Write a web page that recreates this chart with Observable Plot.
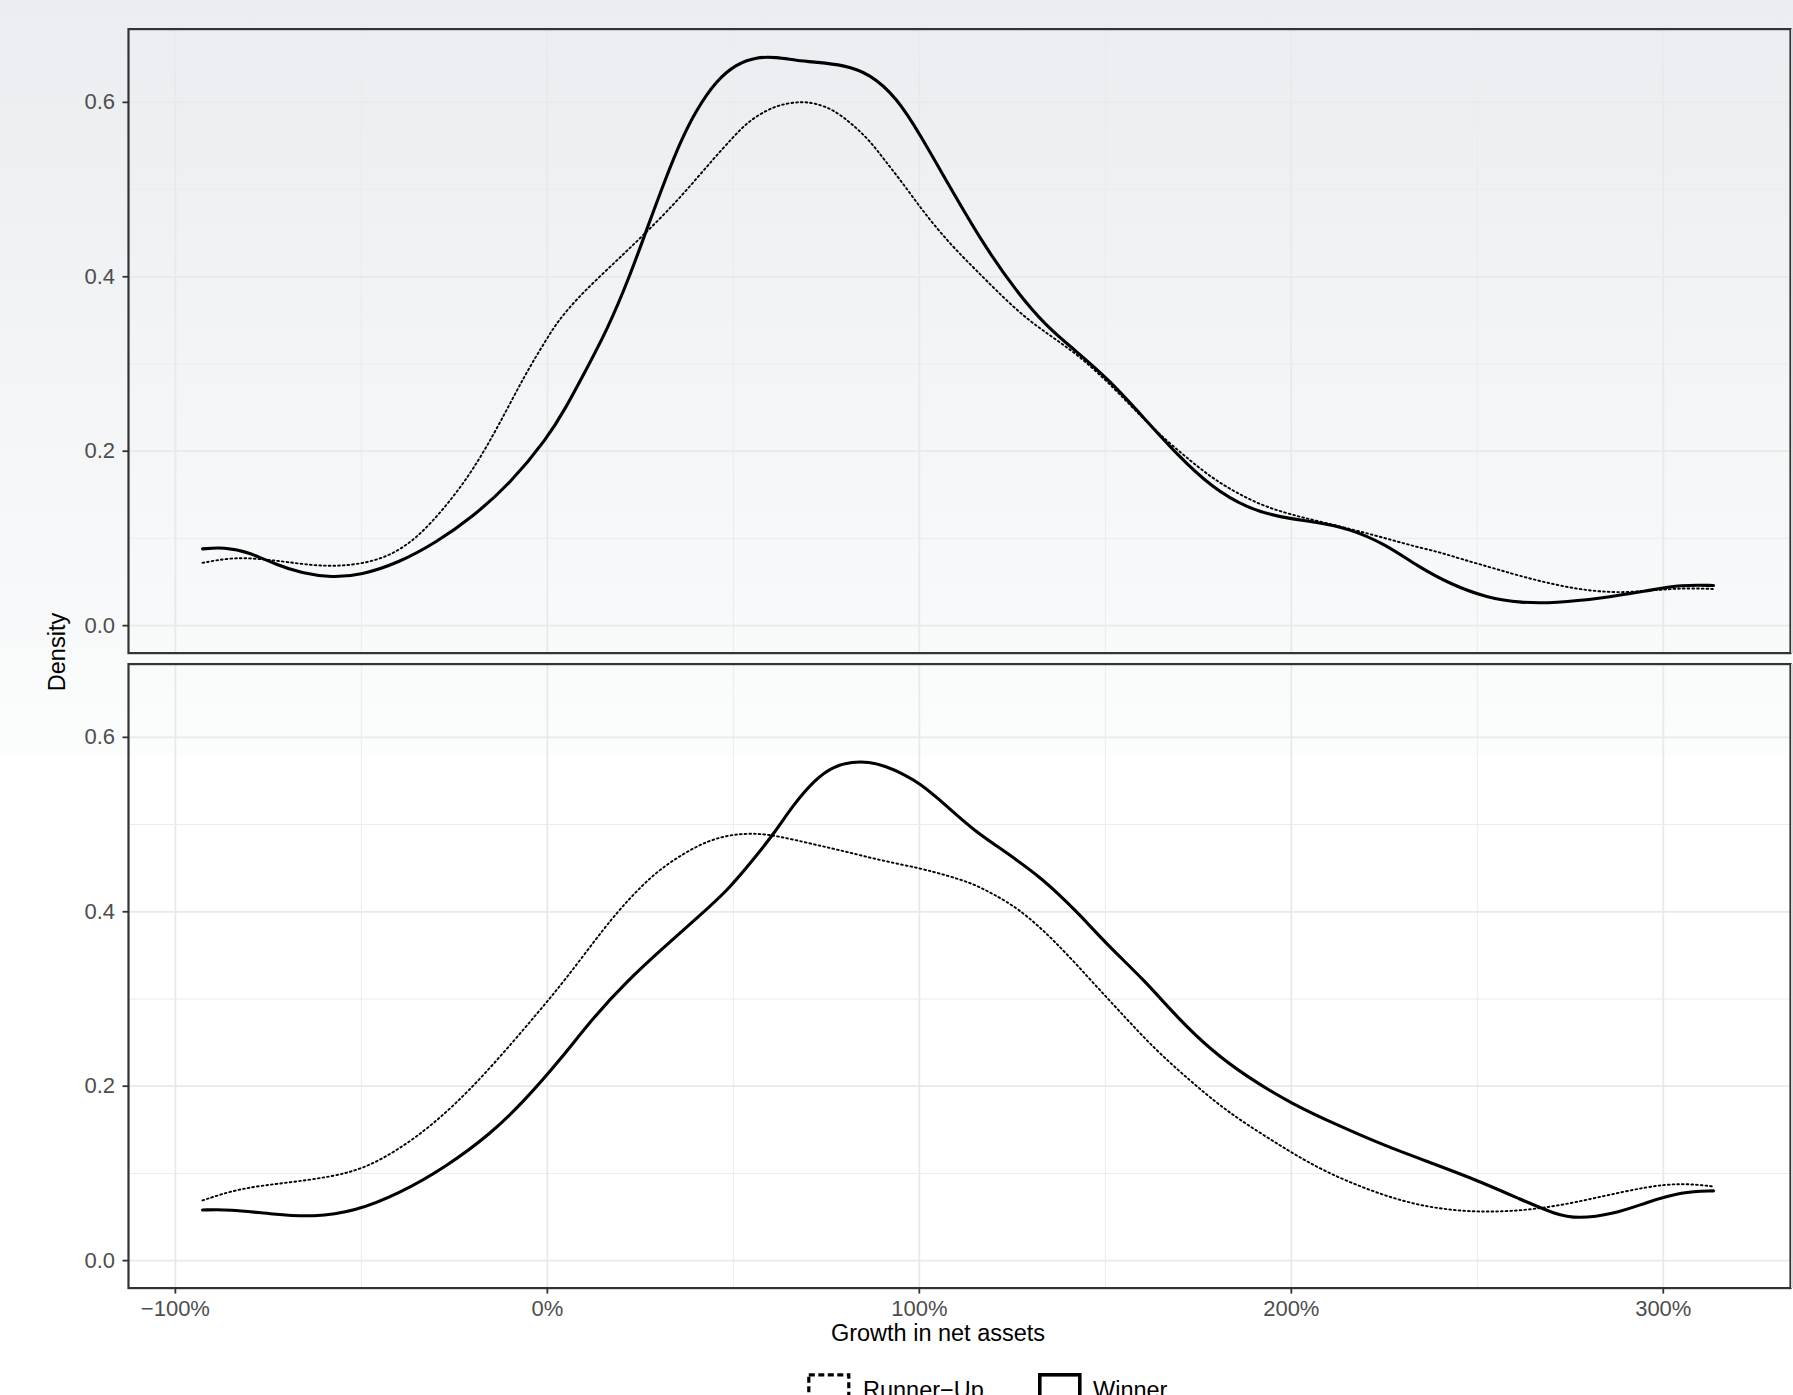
<!DOCTYPE html>
<html>
<head>
<meta charset="utf-8">
<script src="https://cdn.jsdelivr.net/npm/d3@7"></script>
<script src="https://cdn.jsdelivr.net/npm/@observablehq/plot@0.6"></script>
<style>
  html, body { margin: 0; padding: 0; }
  body {
    width: 1793px; height: 1395px; overflow: hidden;
    background: linear-gradient(to bottom, #eaedf1 0px, #fbfcfc 750px, #ffffff 760px, #ffffff 1395px);
    font-family: "Liberation Sans", Arial, Helvetica, sans-serif;
  }
  #wrap { position: relative; width: 1793px; height: 1395px; }
  #chart { position: absolute; left: 0; top: 0; }
  .title { position: absolute; font-size: 23.5px; line-height: 23.5px; color: #000; white-space: nowrap; }
  .strip { position: absolute; background: #d9d9d9; }
</style>
</head>
<body>
<div id="wrap">
  <div id="chart"></div>
</div>
<script>
// ---- data (x in percent growth, y = density) ----
const panels = ["Panel 1", "Panel 2"];
const seriesNames = ["Runner\u2212Up", "Winner"];
const xTicks = [-100, 0, 100, 200, 300];
const xMinor = [-50, 50, 150, 250];
const yTicks = [0, 0.2, 0.4, 0.6];
const yMinor = [0.1, 0.3, 0.5];

const topWinnerX = [-92.7, -87, -80, -73, -66, -58, -50, -40, -30, -20, -10, 0, 5, 10, 16.2, 22.1, 26.6, 31.9, 36, 40, 45.4, 50.8, 56.2, 61.5, 67, 72.3, 79.5, 86.7, 93.8, 100.1, 108.2, 117.1, 126.1, 134.2, 141.8, 151, 160, 169.5, 178.8, 188, 197, 206.5, 215.7, 225, 234, 243, 252.6, 261.8, 271, 283, 295.7, 305, 313.5];
const topWinnerY = [0.088, 0.090, 0.084, 0.070, 0.060, 0.055, 0.058, 0.072, 0.095, 0.125, 0.163, 0.215, 0.250, 0.290, 0.340, 0.400, 0.453, 0.514, 0.557, 0.591, 0.625, 0.644, 0.652, 0.652, 0.648, 0.646, 0.643, 0.633, 0.606, 0.564, 0.503, 0.438, 0.383, 0.343, 0.316, 0.282, 0.240, 0.195, 0.158, 0.135, 0.124, 0.119, 0.111, 0.094, 0.068, 0.047, 0.032, 0.026, 0.026, 0.031, 0.040, 0.047, 0.046];

const topRunnerX = [-92.7, -85, -78, -70, -61, -52, -43, -35, -27, -20, -13, -6, 0, 3, 8, 14, 20, 25.6, 32, 38.2, 44, 49.9, 54, 58.9, 63, 68.3, 72, 76.8, 82, 86.7, 91, 95.6, 100, 104.6, 110, 115.4, 121, 127.9, 135, 141.8, 148, 154, 160, 166.5, 172.6, 178.8, 185, 191, 197, 203, 209, 215.7, 222, 228, 234, 240, 246, 252.6, 259, 265, 271, 277, 283, 289.5, 295.7, 301.8, 307, 313.5];
const topRunnerY = [0.072, 0.078, 0.077, 0.073, 0.068, 0.069, 0.078, 0.100, 0.138, 0.178, 0.230, 0.288, 0.330, 0.350, 0.375, 0.400, 0.424, 0.447, 0.474, 0.503, 0.532, 0.560, 0.578, 0.591, 0.598, 0.601, 0.599, 0.592, 0.575, 0.556, 0.532, 0.507, 0.481, 0.456, 0.430, 0.407, 0.383, 0.355, 0.333, 0.313, 0.290, 0.265, 0.238, 0.212, 0.190, 0.169, 0.153, 0.140, 0.131, 0.124, 0.118, 0.111, 0.104, 0.097, 0.090, 0.084, 0.076, 0.068, 0.060, 0.053, 0.047, 0.042, 0.039, 0.038, 0.040, 0.042, 0.043, 0.042];

const botWinnerX = [-92.7, -85.8, -73.5, -62.8, -52, -39.7, -27.4, -15, -5.8, 3.4, 12.6, 21.8, 31, 40, 48.6, 55, 61, 66, 72, 77, 82, 86.4, 91, 95.7, 100.2, 105, 110, 114.6, 120.6, 126, 132.6, 137, 142.4, 151, 160.4, 169.5, 178.8, 188, 200, 212.6, 225, 237, 249.5, 261.8, 271, 277, 286.5, 295.7, 305, 313.5];
const botWinnerY = [0.058, 0.059, 0.053, 0.050, 0.056, 0.077, 0.107, 0.146, 0.185, 0.230, 0.280, 0.322, 0.358, 0.392, 0.425, 0.458, 0.490, 0.522, 0.552, 0.567, 0.572, 0.572, 0.567, 0.558, 0.547, 0.530, 0.511, 0.494, 0.476, 0.460, 0.439, 0.422, 0.400, 0.360, 0.322, 0.278, 0.240, 0.211, 0.180, 0.155, 0.132, 0.113, 0.093, 0.070, 0.053, 0.048, 0.053, 0.067, 0.079, 0.080];

const botRunnerX = [-92.7, -82.8, -70.5, -58, -49, -39.7, -30.5, -21.2, -12, -2.8, 5.4, 15.7, 22, 29, 36.6, 43.4, 50, 56.4, 61.8, 71, 80.3, 89.5, 100.2, 108, 114.6, 120, 126.6, 135.7, 146, 154, 163.4, 172.6, 181.8, 191, 200, 209, 221.8, 234, 246.5, 258.8, 271, 283, 295.7, 305, 313.5];
const botRunnerY = [0.069, 0.083, 0.089, 0.096, 0.106, 0.128, 0.157, 0.194, 0.237, 0.283, 0.325, 0.384, 0.415, 0.445, 0.467, 0.482, 0.489, 0.490, 0.487, 0.478, 0.469, 0.459, 0.450, 0.441, 0.432, 0.420, 0.404, 0.370, 0.322, 0.285, 0.242, 0.207, 0.174, 0.148, 0.124, 0.102, 0.079, 0.063, 0.056, 0.056, 0.062, 0.073, 0.085, 0.089, 0.085];

// ---- build table ----
function rows(panel, series, xs, ys) {
  return xs.map((x, i) => ({panel, series, x, y: ys[i]}));
}
const data = [
  ...rows(panels[0], seriesNames[1], topWinnerX, topWinnerY),
  ...rows(panels[0], seriesNames[0], topRunnerX, topRunnerY),
  ...rows(panels[1], seriesNames[1], botWinnerX, botWinnerY),
  ...rows(panels[1], seriesNames[0], botRunnerX, botRunnerY)
];
const winner = data.filter(d => d.series === seriesNames[1]);
const runner = data.filter(d => d.series === seriesNames[0]);

const pct = d => (d < 0 ? "\u2212" : "") + Math.abs(d) + "%";

const chart = Plot.plot({
  width: 1793,
  height: 1318,
  marginLeft: 128,
  marginRight: 3,
  marginTop: 28.6,
  marginBottom: 30.4,
  style: {
    background: "transparent",
    fontFamily: "'Liberation Sans', Arial, Helvetica, sans-serif",
    fontSize: "22px",
    overflow: "visible"
  },
  x: {domain: [-112.6, 334.2]},
  y: {domain: [-0.0315, 0.684]},
  fy: {domain: panels, paddingInner: 0.0173, paddingOuter: 0, round: false, axis: null, label: null},
  marks: [
    Plot.gridX(xMinor, {stroke: "#ebebeb", strokeOpacity: 1, strokeWidth: 1}),
    Plot.gridY(yMinor, {stroke: "#ebebeb", strokeOpacity: 1, strokeWidth: 1}),
    Plot.gridX(xTicks, {stroke: "#e9e9e9", strokeOpacity: 1, strokeWidth: 1.8}),
    Plot.gridY(yTicks, {stroke: "#e9e9e9", strokeOpacity: 1, strokeWidth: 1.8}),
    Plot.line(runner, {x: "x", y: "y", fy: "panel", z: "panel", curve: "basis",
      stroke: "#000", strokeWidth: 1.9, strokeDasharray: "1.7,3.0"}),
    Plot.line(winner, {x: "x", y: "y", fy: "panel", z: "panel", curve: "basis",
      stroke: "#000", strokeWidth: 3.1}),
    Plot.frame({stroke: "#333333", strokeWidth: 2.2}),
    Plot.axisY(yTicks, {tickFormat: d => d.toFixed(1), tickSize: 5.5, tickPadding: 8,
      stroke: "#333333", strokeWidth: 1.8, fill: "#4d4d4d", label: null}),
    Plot.axisX(xTicks, {tickFormat: pct, tickSize: 6, tickPadding: 6,
      stroke: "#333333", strokeWidth: 1.8, fill: "#4d4d4d", label: null})
  ]
});
document.getElementById("chart").appendChild(chart);

// ---- facet strips (clipped at right edge), axis titles, legend ----
const wrap = document.getElementById("wrap");
function addDiv(cls, styles, text) {
  const el = document.createElement("div");
  el.className = cls;
  Object.assign(el.style, styles);
  if (text != null) el.textContent = text;
  wrap.appendChild(el);
  return el;
}
addDiv("strip", {left: "1791px", top: "29px", width: "2px", height: "624px"});
addDiv("strip", {left: "1791px", top: "664px", width: "2px", height: "624px"});

addDiv("title", {left: "938px", top: "1322px", transform: "translateX(-50%)"}, "Growth in net assets");
addDiv("title", {left: "58px", top: "652px", transform: "translate(-50%, -50%) rotate(-90deg)"}, "Density");

// legend
const legendItems = [
  {name: seriesNames[0], dash: "6,3.5", width: 3.2, key: 808, label: 863},
  {name: seriesNames[1], dash: null, width: 3.6, key: 1039, label: 1093}
];
legendItems.forEach(item => {
  const svgNS = "http://www.w3.org/2000/svg";
  const svg = document.createElementNS(svgNS, "svg");
  svg.setAttribute("width", 44);
  svg.setAttribute("height", 44);
  svg.style.position = "absolute";
  svg.style.left = (item.key - 1.5) + "px";
  svg.style.top = (1374 - 1.5) + "px";
  const r = document.createElementNS(svgNS, "rect");
  r.setAttribute("x", 1.8); r.setAttribute("y", 1.8);
  r.setAttribute("width", 40); r.setAttribute("height", 40);
  r.setAttribute("fill", "none"); r.setAttribute("stroke", "#000");
  r.setAttribute("stroke-width", item.width);
  if (item.dash) r.setAttribute("stroke-dasharray", item.dash);
  svg.appendChild(r);
  wrap.appendChild(svg);
  addDiv("title", {left: item.label + "px", top: "1379px"}, item.name);
});
</script>
</body>
</html>
